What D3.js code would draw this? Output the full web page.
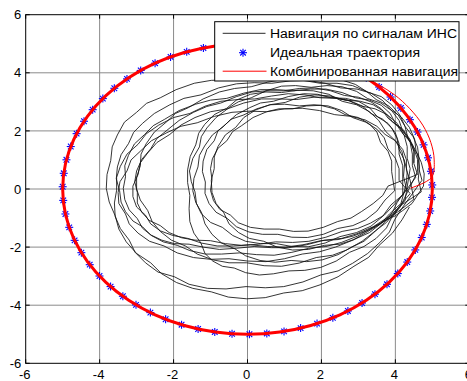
<!DOCTYPE html>
<html><head><meta charset="utf-8">
<script src="https://cdn.jsdelivr.net/npm/d3@7"></script>
<style>html,body{margin:0;padding:0;background:#fff;overflow:hidden}</style>
</head><body>
<svg id="c" width="467" height="381"></svg>
<script>
// ---------- data ----------
const xTicks = [-6, -4, -2, 0, 2, 4, 6];
const yTicks = [-6, -4, -2, 0, 2, 4, 6];
const legendLabels = ["Навигация по сигналам ИНС", "Идеальная траектория", "Комбинированная навигация"];

// ideal trajectory: radius and marker angles (degrees)
const idealRadius = 5;
const idealAngles = [1.6, 7.0, 12.4, 17.7, 23.1, 28.5, 33.9, 39.3, 44.6, 50.0, 55.4, 60.8, 66.2, 71.5, 76.9,
  82.3, 87.7, 93.1, 98.4, 103.8, 109.2, 114.6, 120.0, 125.3, 130.7, 136.1, 141.5, 146.9, 152.2, 157.6,
  163.0, 168.4, 173.8, 179.1, 184.5, 189.9, 195.3, 200.7, 206.0, 211.4, 216.8, 222.2, 227.6, 232.9,
  238.3, 243.7, 249.1, 254.5, 259.8, 265.2, 270.6, 276.0, 281.4, 286.7, 292.1, 297.5, 302.9, 308.3,
  313.6, 319.0, 324.4, 329.8, 335.2, 340.5, 345.9, 351.3, 356.7];

// combined navigation: settled circle (angles, deg) + initial transient (x,y)
const combinedRadius = 5;
const combinedAngles = [0, 10, 20, 30, 40, 50, 60, 70, 80, 90, 100, 110, 120, 130, 140, 150, 160, 170,
  180, 190, 200, 210, 220, 230, 240, 250, 260, 270, 280, 290, 300, 310, 320, 330, 340, 350];
const combinedStart = [[4.41, 0.03], [4.98, 0.40], [5.05, 1.00], [4.96, 1.60], [4.74, 2.20],
  [4.38, 2.78], [3.98, 3.24], [3.56, 3.58], [3.15, 3.86]];

// INS-only navigation: successive laps (x,y pairs)
const insLap1  = "4.50,0.90 4.51,1.27 4.40,1.66 4.20,1.98 4.10,2.36 3.90,2.70 3.60,2.96 3.24,3.12 2.95,3.36 2.56,3.52 2.15,3.56 1.72,3.50 1.30,3.56 0.92,3.54 0.50,3.38 0.10,3.14 -0.25,3.00 -0.50,2.80 -0.85,2.46 -1.10,2.10 -1.25,1.80 -1.30,1.45 -1.48,1.05 -1.57,0.62 -1.52,0.25 -1.42,-0.10 -1.38,-0.50 -1.25,-0.85 -1.00,-1.15 -0.68,-1.32 -0.40,-1.60 -0.05,-1.80 0.35,-1.88 0.78,-1.88 1.20,-1.98 1.64,-1.99 2.10,-1.86 2.50,-1.64 2.95,-1.50 3.34,-1.28 3.65,-0.95 3.88,-0.55 4.20,-0.20";
const insLap2  = "4.20,0.80 4.10,1.20 4.10,1.56 4.00,1.93 3.80,2.26 3.52,2.48 3.30,2.80 3.00,3.02 2.65,3.12 2.26,3.14 1.90,3.26 1.52,3.28 1.10,3.18 0.70,3.02 0.35,2.96 0.06,2.80 -0.30,2.56 -0.58,2.24 -0.80,2.00 -0.90,1.66 -1.10,1.36 -1.20,0.96 -1.22,0.60 -1.14,0.24 -1.15,-0.15 -1.04,-0.50 -0.85,-0.80 -0.54,-1.02 -0.30,-1.30 0.04,-1.48 0.40,-1.56 0.82,-1.56 1.20,-1.66 1.62,-1.67 2.05,-1.56 2.44,-1.36 2.85,-1.26 3.20,-1.06 3.50,-0.76 3.72,-0.38 3.98,-0.06";
const insLap3  = "3.90,0.60 3.90,0.96 3.80,1.30 3.60,1.60 3.50,1.96 3.30,2.24 3.00,2.46 2.64,2.56 2.35,2.76 1.98,2.88 1.60,2.86 1.22,2.76 0.85,2.76 0.52,2.66 0.15,2.46 -0.16,2.18 -0.40,1.98 -0.56,1.66 -0.80,1.40 -0.95,1.04 -1.00,0.70 -0.96,0.32 -1.00,-0.05 -0.92,-0.40 -0.75,-0.70 -0.46,-0.90 -0.25,-1.16 0.08,-1.32 0.45,-1.38 0.86,-1.38 1.25,-1.46 1.64,-1.45 2.05,-1.32 2.44,-1.12 2.80,-1.00 3.08,-0.78 3.40,-0.50 3.66,-0.22 3.80,0.10";
const insLap4  = "4.60,0.50 4.50,0.88 4.50,1.30 4.40,1.70 4.20,2.06 3.92,2.32 3.70,2.66 3.40,2.90 3.05,3.02 2.64,3.06 2.25,3.20 1.82,3.24 1.40,3.16 1.02,2.98 0.60,2.90 0.22,2.72 -0.10,2.46 -0.32,2.12 -0.60,1.86 -0.80,1.46 -0.90,1.10 -0.90,0.70 -0.98,0.30 -0.96,-0.12 -0.85,-0.50 -0.64,-0.82 -0.50,-1.20 -0.24,-1.50 0.05,-1.70 0.44,-1.80 0.80,-2.00 1.22,-2.10 1.65,-2.08 2.08,-1.94 2.50,-1.90 2.88,-1.74 3.30,-1.50 3.64,-1.16 3.95,-0.90 4.14,-0.54 4.40,-0.16";
const insLap5  = "4.10,0.30 4.10,0.70 4.00,1.06 3.80,1.38 3.70,1.76 3.50,2.06 3.20,2.30 2.84,2.46 2.55,2.70 2.18,2.86 1.80,2.90 1.40,2.86 1.00,2.92 0.62,2.90 0.25,2.76 -0.12,2.54 -0.45,2.40 -0.66,2.14 -0.95,1.86 -1.16,1.48 -1.30,1.16 -1.34,0.76 -1.45,0.36 -1.48,-0.06 -1.40,-0.46 -1.24,-0.82 -1.15,-1.20 -0.96,-1.56 -0.70,-1.86 -0.34,-2.06 -0.05,-2.30 0.34,-2.46 0.75,-2.52 1.18,-2.46 1.60,-2.50 2.02,-2.44 2.45,-2.26 2.82,-2.00 3.15,-1.80 3.40,-1.52 3.70,-1.16 3.92,-0.80 4.05,-0.46";
const insLap6  = "4.30,0.00 4.22,0.44 4.25,0.86 4.18,1.28 4.00,1.66 3.74,1.98 3.55,2.36 3.30,2.66 2.95,2.90 2.56,3.02 2.20,3.26 1.78,3.38 1.35,3.40 0.92,3.32 0.50,3.34 0.08,3.26 -0.30,3.06 -0.56,2.78 -0.90,2.56 -1.16,2.22 -1.32,1.92 -1.40,1.52 -1.55,1.12 -1.62,0.66 -1.62,0.22 -1.56,-0.22 -1.58,-0.68 -1.56,-1.12 -1.45,-1.52 -1.26,-1.86 -1.15,-2.22 -0.94,-2.48 -0.68,-2.66 -0.36,-2.72 -0.05,-2.88 0.32,-2.96 0.70,-2.92 1.12,-2.82 1.55,-2.80 1.98,-2.70 2.40,-2.48 2.76,-2.18 3.15,-1.98 3.48,-1.70 3.76,-1.34 3.90,-0.98 4.12,-0.64";
const insLap7  = "4.60,0.60 4.60,1.02 4.50,1.40 4.34,1.76 4.26,2.16 4.08,2.54 3.82,2.86 3.48,3.08 3.22,3.36 2.84,3.56 2.42,3.64 1.96,3.64 1.50,3.74 1.02,3.78 0.55,3.68 0.10,3.52 -0.35,3.46 -0.76,3.34 -1.20,3.10 -1.60,2.80 -1.95,2.60 -2.20,2.30 -2.52,1.96 -2.74,1.56 -2.88,1.20 -2.90,0.80 -3.00,0.40 -3.00,0.00 -2.90,-0.38 -2.70,-0.74 -2.58,-1.12 -2.36,-1.46 -2.06,-1.76 -1.68,-1.96 -1.36,-2.24 -0.94,-2.44 -0.50,-2.54 -0.02,-2.54 0.45,-2.64 0.92,-2.66 1.40,-2.55 1.86,-2.36 2.30,-2.28 2.68,-2.10 3.10,-1.80 3.46,-1.44 3.76,-1.15 3.98,-0.80 4.26,-0.40";
const insLap8  = "4.40,0.70 4.32,1.06 4.32,1.46 4.24,1.84 4.06,2.16 3.80,2.44 3.62,2.76 3.34,3.00 3.00,3.16 2.62,3.22 2.25,3.38 1.82,3.48 1.40,3.46 0.98,3.38 0.55,3.38 0.12,3.34 -0.30,3.18 -0.72,2.96 -1.10,2.84 -1.46,2.64 -1.85,2.36 -2.18,2.02 -2.45,1.74 -2.62,1.38 -2.86,1.02 -3.00,0.62 -3.05,0.25 -2.98,-0.12 -2.98,-0.48 -2.86,-0.80 -2.66,-1.08 -2.36,-1.26 -2.12,-1.50 -1.78,-1.68 -1.42,-1.76 -1.00,-1.78 -0.60,-1.88 -0.16,-1.94 0.30,-1.90 0.76,-1.82 1.22,-1.84 1.66,-1.80 2.12,-1.66 2.56,-1.46 2.98,-1.36 3.32,-1.18 3.70,-0.90 3.98,-0.52 4.20,-0.20";
const insLap9  = "4.55,0.40 4.46,0.80 4.46,1.20 4.40,1.60 4.24,1.96 4.00,2.26 3.86,2.60 3.62,2.88 3.30,3.06 2.92,3.14 2.56,3.32 2.12,3.44 1.70,3.44 1.26,3.38 0.80,3.42 0.34,3.42 -0.10,3.30 -0.56,3.12 -1.00,3.06 -1.40,2.92 -1.85,2.70 -2.24,2.40 -2.55,2.18 -2.78,1.88 -3.06,1.55 -3.22,1.16 -3.32,0.80 -3.30,0.42 -3.36,0.02 -3.32,-0.36 -3.20,-0.72 -2.98,-1.02 -2.84,-1.35 -2.60,-1.60 -2.28,-1.82 -1.90,-1.94 -1.56,-2.12 -1.14,-2.24 -0.70,-2.24 -0.22,-2.20 0.25,-2.26 0.72,-2.28 1.20,-2.18 1.66,-2.04 2.12,-1.98 2.54,-1.84 2.98,-1.62 3.36,-1.34 3.68,-1.12 3.92,-0.84 4.20,-0.52";
const insLap10 = "4.70,-0.10 4.62,0.34 4.65,0.76 4.60,1.18 4.45,1.56 4.22,1.88 4.05,2.26 3.78,2.56 3.45,2.76 3.06,2.86 2.70,3.06 2.26,3.16 1.80,3.16 1.32,3.08 0.85,3.10 0.38,3.10 -0.10,2.96 -0.54,2.76 -1.00,2.66 -1.42,2.46 -1.80,2.20 -2.10,1.88 -2.45,1.60 -2.70,1.24 -2.90,0.90 -2.96,0.50 -3.10,0.10 -3.10,-0.26 -3.00,-0.62 -2.76,-0.90 -2.62,-1.20 -2.36,-1.44 -2.02,-1.60 -1.62,-1.70 -1.25,-1.86 -0.82,-1.96 -0.38,-1.96 0.08,-1.92 0.55,-1.98 1.02,-2.00 1.50,-1.92 1.98,-1.78 2.45,-1.74 2.86,-1.62 3.30,-1.40 3.68,-1.12 4.00,-0.92 4.20,-0.74 4.45,-0.50";
const insLap11 = "4.76,0.10 4.78,0.52 4.70,0.92 4.56,1.30 4.52,1.72 4.38,2.12 4.16,2.48 3.88,2.72 3.66,3.04 3.34,3.30 2.96,3.44 2.52,3.48 2.10,3.64 1.62,3.74 1.15,3.72 0.66,3.64 0.18,3.66 -0.30,3.62 -0.78,3.48 -1.26,3.24 -1.72,3.12 -2.10,2.90 -2.52,2.60 -2.84,2.26 -3.08,1.95 -3.22,1.56 -3.42,1.18 -3.52,0.76 -3.55,0.35 -3.46,-0.06 -3.42,-0.45 -3.30,-0.78 -3.10,-1.10 -2.84,-1.30 -2.62,-1.58 -2.32,-1.76 -1.98,-1.88 -1.58,-1.90 -1.20,-2.00 -0.76,-2.08 -0.30,-2.04 0.18,-1.98 0.65,-2.02 1.12,-2.02 1.60,-1.92 2.08,-1.76 2.55,-1.70 2.96,-1.54 3.40,-1.30 3.74,-1.02 4.05,-0.80 4.26,-0.60 4.50,-0.35";
const insLap12 = "4.40,0.30 4.30,0.64 4.30,1.00 4.20,1.36 4.00,1.66 3.72,1.88 3.50,2.16 3.18,2.38 2.80,2.50 2.36,2.56 1.95,2.70 1.48,2.78 1.00,2.76 0.52,2.66 0.05,2.68 -0.42,2.64 -0.90,2.50 -1.36,2.28 -1.80,2.16 -2.18,1.94 -2.60,1.66 -2.90,1.30 -3.15,1.00 -3.26,0.62 -3.45,0.25 -3.50,-0.12 -3.48,-0.50 -3.30,-0.86 -3.20,-1.20 -2.96,-1.52 -2.65,-1.80 -2.26,-1.96 -1.90,-2.20 -1.46,-2.36 -1.00,-2.42 -0.50,-2.40 0.00,-2.48 0.50,-2.50 1.00,-2.40 1.48,-2.24 1.95,-2.16 2.38,-2.00 2.85,-1.76 3.26,-1.46 3.60,-1.20 3.84,-0.86 4.15,-0.50";
const insLap13 = "4.30,0.20 4.32,0.60 4.24,1.00 4.10,1.36 4.04,1.76 3.90,2.10 3.66,2.40 3.34,2.60 3.10,2.86 2.76,3.04 2.40,3.12 1.96,3.14 1.55,3.24 1.10,3.28 0.65,3.20 0.20,3.10 -0.25,3.08 -0.72,3.02 -1.15,2.85 -1.56,2.60 -2.00,2.46 -2.40,2.20 -2.74,1.90 -2.96,1.54 -3.26,1.20 -3.44,0.78 -3.54,0.40 -3.54,-0.04 -3.60,-0.48 -3.58,-0.94 -3.44,-1.36 -3.20,-1.76 -3.04,-2.18 -2.76,-2.54 -2.42,-2.86 -1.98,-3.02 -1.58,-3.28 -1.08,-3.42 -0.58,-3.44 -0.04,-3.36 0.48,-3.40 0.98,-3.36 1.50,-3.20 1.98,-2.96 2.45,-2.82 2.84,-2.56 3.25,-2.22 3.58,-1.84 3.84,-1.48 3.98,-1.06 4.18,-0.66";
const insLap14 = "4.72,0.30 4.64,0.68 4.64,1.05 4.60,1.44 4.48,1.80 4.26,2.16 4.12,2.55 3.90,2.90 3.62,3.18 3.24,3.34 2.92,3.60 2.48,3.78 2.02,3.85 1.52,3.84 1.02,3.93 0.52,3.96 0.02,3.88 -0.48,3.76 -0.98,3.74 -1.44,3.64 -1.93,3.42 -2.36,3.14 -2.73,2.95 -3.00,2.64 -3.33,2.30 -3.52,1.86 -3.66,1.45 -3.70,0.98 -3.80,0.50 -3.82,0.02 -3.74,-0.45 -3.58,-0.92 -3.48,-1.38 -3.28,-1.82 -3.00,-2.22 -2.62,-2.54 -2.32,-2.92 -1.92,-3.22 -1.48,-3.42 -0.98,-3.54 -0.52,-3.72 -0.02,-3.78 0.48,-3.74 0.98,-3.58 1.48,-3.50 1.96,-3.30 2.45,-3.02 2.88,-2.66 3.28,-2.35 3.56,-1.94 3.92,-1.52 4.18,-1.06 4.38,-0.62";
const insLaps = [insLap1, insLap2, insLap3, insLap4, insLap5, insLap6, insLap7, insLap8, insLap9, insLap10, insLap11, insLap12, insLap13, insLap14];

// ---------- layout ----------
const plot = {left: 25.7, right: 469.3, top: 14.7, bottom: 363.3};
const FONT = "'Liberation Sans', Arial, Helvetica, sans-serif";

const svg = d3.select("#c");
const x = d3.scaleLinear().domain([-6, 6]).range([plot.left, plot.right]);
const y = d3.scaleLinear().domain([-6, 6]).range([plot.bottom, plot.top]);

const polar = (r, deg) => {
  const p = d3.pointRadial(Math.PI / 2 - deg * Math.PI / 180, r);
  return [p[0], -p[1]];
};
const parse = s => s.trim().split(/\s+/).map(t => t.split(",").map(Number));

// grid
const grid = svg.append("g").attr("stroke", "#8a8a8a").attr("stroke-width", 1).attr("fill", "none");
xTicks.slice(1, -1).forEach(t => grid.append("line").attr("x1", x(t)).attr("x2", x(t)).attr("y1", plot.top).attr("y2", plot.bottom));
yTicks.slice(1, -1).forEach(t => grid.append("line").attr("y1", y(t)).attr("y2", y(t)).attr("x1", plot.left).attr("x2", plot.right));

const line = d3.line().x(d => x(d[0])).y(d => y(d[1]));

// INS path (continuous)
const insPts = insLaps.flatMap(parse);
svg.append("path").attr("d", line(insPts)).attr("fill", "none")
  .attr("stroke", "#111").attr("stroke-width", 0.85).attr("stroke-linejoin", "round");

// ideal markers (asterisks)
function asterisk(g, cx, cy, s) {
  const d = s * 0.7;
  const segs = [[-s, 0, s, 0], [0, -s, 0, s], [-d, -d, d, d], [-d, d, d, -d]];
  segs.forEach(q => g.append("line").attr("x1", cx + q[0]).attr("y1", cy + q[1]).attr("x2", cx + q[2]).attr("y2", cy + q[3]));
}
const mk = svg.append("g").attr("stroke", "#0000ff").attr("stroke-width", 1.1);
idealAngles.forEach(a => {
  const p = polar(idealRadius, a);
  asterisk(mk, x(p[0]), y(p[1]), 4);
});

// combined navigation
const circPts = combinedAngles.map(a => polar(combinedRadius, a));
svg.append("path").attr("d", d3.line().x(d => x(d[0])).y(d => y(d[1])).curve(d3.curveCatmullRomClosed)(circPts))
  .attr("fill", "none").attr("stroke", "#ff0000").attr("stroke-width", 3);
svg.append("path").attr("d", d3.line().x(d => x(d[0])).y(d => y(d[1])).curve(d3.curveCatmullRom)(combinedStart))
  .attr("fill", "none").attr("stroke", "#ff0000").attr("stroke-width", 1);

// axes box
svg.append("rect").attr("x", plot.left).attr("y", plot.top)
  .attr("width", plot.right - plot.left).attr("height", plot.bottom - plot.top)
  .attr("fill", "none").attr("stroke", "#000").attr("stroke-width", 1);

// ticks (inward, all four sides)
const tk = svg.append("g").attr("stroke", "#000").attr("stroke-width", 1);
const TL = 4;
xTicks.forEach(t => {
  tk.append("line").attr("x1", x(t)).attr("x2", x(t)).attr("y1", plot.bottom).attr("y2", plot.bottom - TL);
  tk.append("line").attr("x1", x(t)).attr("x2", x(t)).attr("y1", plot.top).attr("y2", plot.top + TL);
});
yTicks.forEach(t => {
  tk.append("line").attr("y1", y(t)).attr("y2", y(t)).attr("x1", plot.left).attr("x2", plot.left + TL);
  tk.append("line").attr("y1", y(t)).attr("y2", y(t)).attr("x1", plot.right).attr("x2", plot.right - TL);
});

// tick labels
const lab = svg.append("g").attr("font-family", FONT).attr("font-size", 13).attr("fill", "#000");
xTicks.forEach(t => lab.append("text").attr("x", x(t) - 1).attr("y", plot.bottom + 15.3)
  .attr("text-anchor", "middle").text(t));
yTicks.forEach(t => lab.append("text").attr("x", plot.left - 4.5).attr("y", y(t) + 4.6)
  .attr("text-anchor", "end").text(t));

// legend
const lg = svg.append("g");
lg.append("rect").attr("x", 214.7).attr("y", 21.7).attr("width", 244.3).attr("height", 59.3)
  .attr("fill", "#fff").attr("stroke", "#000").attr("stroke-width", 1);
const rowY = [33.3, 52.7, 71.2];
const textW = [187, 150, 188];
lg.append("line").attr("x1", 222.7).attr("x2", 265.5).attr("y1", rowY[0]).attr("y2", rowY[0])
  .attr("stroke", "#111").attr("stroke-width", 0.9);
asterisk(lg.append("g").attr("stroke", "#0000ff").attr("stroke-width", 1.1), 243, rowY[1], 4);
lg.append("line").attr("x1", 222.7).attr("x2", 266.5).attr("y1", rowY[2]).attr("y2", rowY[2])
  .attr("stroke", "#ff0000").attr("stroke-width", 1);
legendLabels.forEach((s, i) => lg.append("text").attr("x", 270).attr("y", rowY[i] + 4.5)
  .attr("font-family", FONT).attr("font-size", 12.5).attr("fill", "#000")
  .attr("textLength", textW[i]).attr("lengthAdjust", "spacingAndGlyphs").text(s));
</script>
</body></html>
